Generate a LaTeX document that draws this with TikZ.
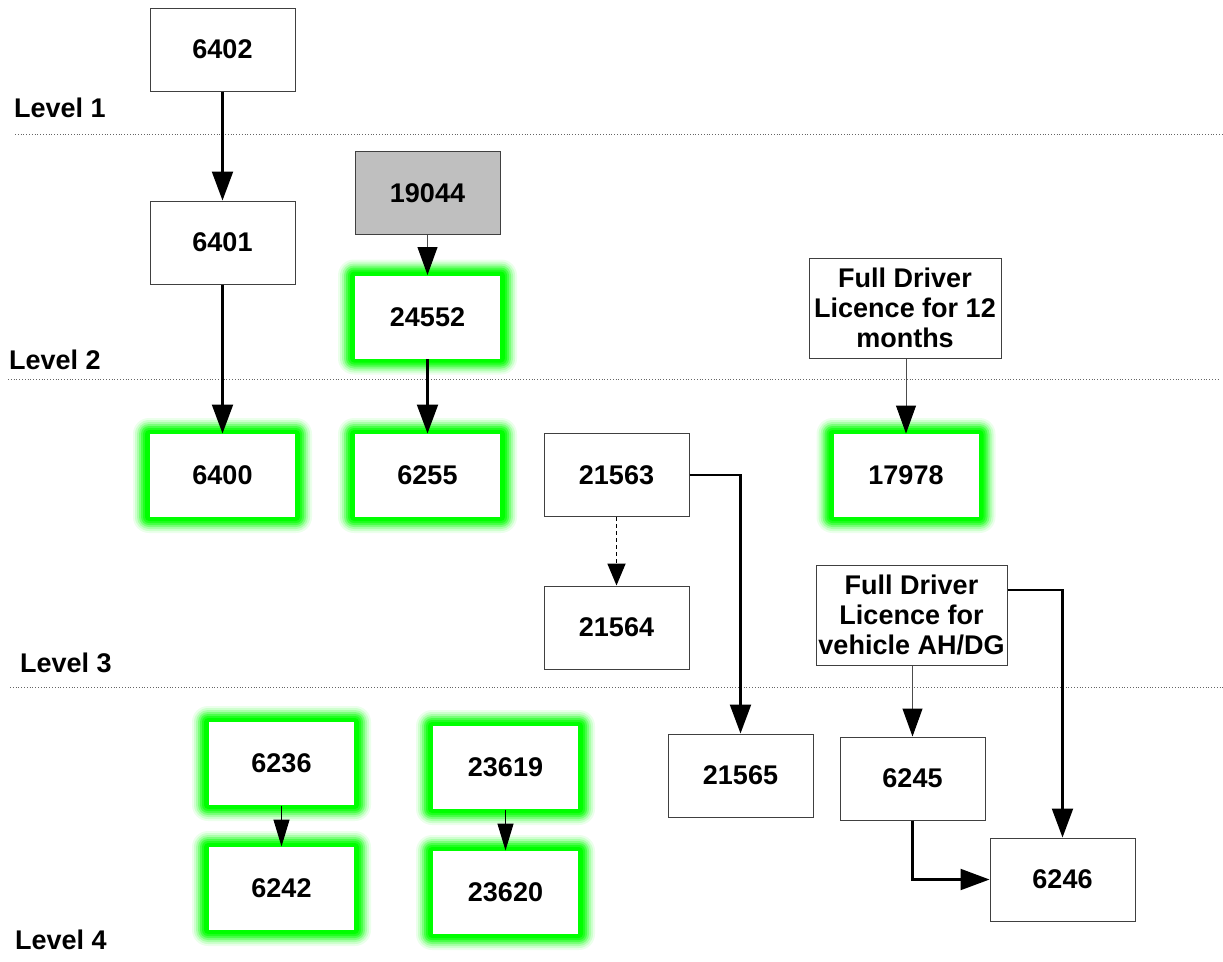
\documentclass[tikz,border=0pt]{standalone}
\usepackage{fontspec}
\setmainfont{Liberation Sans}
\usetikzlibrary{arrows.meta}
\tikzset{
  box/.style={draw=black!75, line width=1pt, fill=white, minimum width=145pt, minimum height=83pt,
    font=\bfseries\fontsize{27}{30}\selectfont, align=center, inner sep=2pt},
  glowin/.style={box, draw=none},
  graybox/.style={box, fill=black!25},
  lvl/.style={anchor=west, font=\bfseries\fontsize{27}{30}\selectfont, inner sep=0pt},
  arr/.style={-{Triangle[length=29pt,width=21pt]}, line width=2.1pt, draw=black},
  thinarr/.style={-{Triangle[length=28pt,width=20pt,color=black]}, line width=1pt, draw=black!70},
  smallarr/.style={-{Triangle[length=27pt,width=16pt,color=black]}, line width=1.2pt, draw=black},
  dasharr/.style={-{Triangle[length=22pt,width=18pt]}, line width=1.8pt, dash pattern=on 4pt off 3pt, draw=black},
  sep/.style={dotted, line width=0.8pt, draw=black!60},
}
\newcommand\glowbox[4]{%
  \foreach \r/\o in {16/0.08,14/0.12,12/0.18,10/0.28,8/0.4,6/0.55,4/1}{
    \fill[green,opacity=\o,rounded corners=\r pt] (#2-72.5-\r-1,#3-41.5-\r) rectangle (#2+72.5+\r+1,#3+41.5+\r);
  }
  \node[glowin] (#1) at (#2,#3) {#4};
}
\begin{document}
\begin{tikzpicture}[x=1pt,y=-1pt]
\useasboundingbox (0,0) rectangle (1223,961);
% separators
\draw[sep] (15,134) -- (1223,134);
\draw[sep] (8,379) -- (1220,379);
\draw[sep] (10,687) -- (1223,687);
% level labels
\node[lvl] (l1) at (14,108) {Level 1};
\node[lvl] (l2) at (9,360) {Level 2};
\node[lvl] (l3) at (20,663) {Level 3};
\node[lvl] (l4) at (15,940) {Level 4};
% boxes
\node[box] (n6402) at (222.5,49.5) {6402};
\node[box] (n6401) at (222.5,242.5) {6401};
\node[graybox] (n19044) at (427.5,193) {19044};
\glowbox{n24552}{427.5}{317}{24552}
\glowbox{n6400}{222.5}{475.5}{6400}
\glowbox{n6255}{427.5}{475.5}{6255}
\node[box] (n21563) at (616.5,475) {21563};
\node[box] (n21564) at (616.5,627.5) {21564};
\node[box, minimum width=192pt, minimum height=100pt] (fdl12) at (905,308) {Full Driver\\Licence for 12\\months};
\glowbox{n17978}{906}{475.5}{17978}
\node[box, minimum width=191pt, minimum height=100pt] (fdlah) at (911.5,615) {Full Driver\\Licence for\\vehicle AH/DG};
\node[box] (n21565) at (740.5,775.5) {21565};
\node[box] (n6245) at (912.5,778.5) {6245};
\node[box] (n6246) at (1062.5,879.5) {6246};
\glowbox{n6236}{281.5}{763.5}{6236}
\glowbox{n6242}{281.5}{888.5}{6242}
\glowbox{n23619}{505.5}{767.5}{23619}
\glowbox{n23620}{505.5}{892.5}{23620}
% connectors
\draw[arr] (n6402) -- (n6401);
\draw[arr] (n6401) -- (n6400);
\draw[thinarr] (n19044) -- (n24552);
\draw[arr] (n24552) -- (n6255);
\draw[dasharr] (n21563) -- (n21564);
\draw[arr] (n21563.east) -| (n21565.north);
\draw[thinarr] (fdl12.south -| n17978.north) -- (n17978.north);
\draw[thinarr] (fdlah.south -| n6245.north) -- (n6245.north);
\draw[arr] ([yshift=25pt]fdlah.east) -| (n6246.north);
\draw[arr] (n6245.south) |- (n6246.west);
\draw[smallarr] (n6236) -- (n6242);
\draw[smallarr] (n23619) -- (n23620);
\end{tikzpicture}
\end{document}
